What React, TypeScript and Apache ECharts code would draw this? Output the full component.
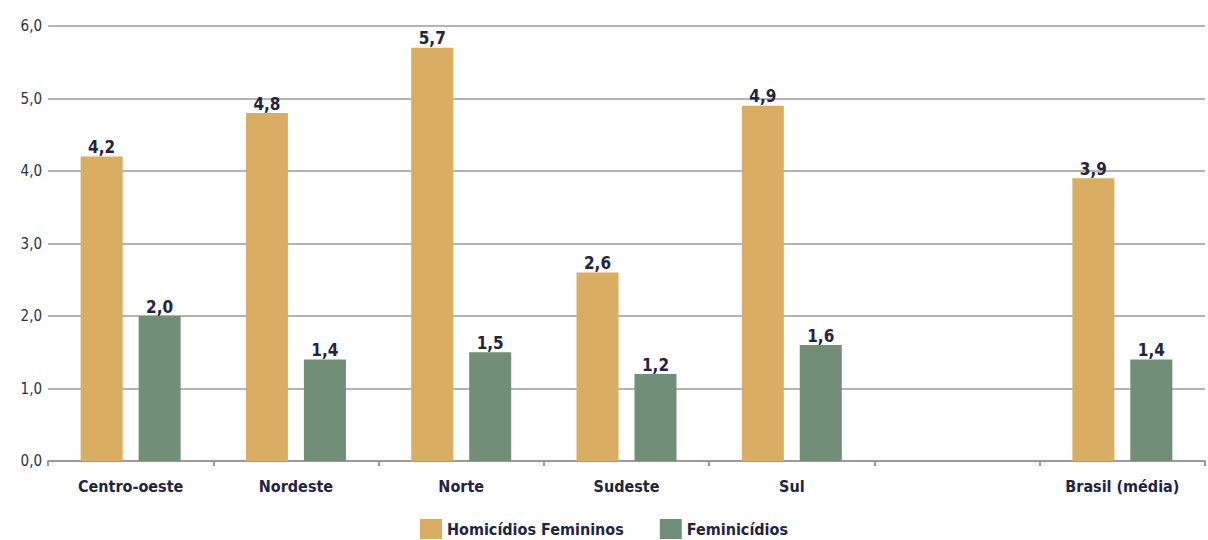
import React, { useEffect, useRef } from "react";
import * as echarts from "echarts";

const categories = ["Centro-oeste", "Nordeste", "Norte", "Sudeste", "Sul", "", "Brasil (média)"];
const homicidios: (number | string)[] = [4.2, 4.8, 5.7, 2.6, 4.9, "-", 3.9];
const feminicidios: (number | string)[] = [2.0, 1.4, 1.5, 1.2, 1.6, "-", 1.4];
const yTicks = [0, 1, 2, 3, 4, 5, 6];

const FONT = "'Liberation Sans Narrow', 'DejaVu Sans Condensed', 'Roboto', sans-serif";
const TEXT = "#1f2440";
const fmt = (v: number) => v.toFixed(1).replace(".", ",");

export default function App() {
  const ref = useRef<HTMLDivElement>(null);
  useEffect(() => {
    document.body.style.margin = "0";
    if (!ref.current) return;
    const chart = echarts.init(ref.current, null, { renderer: "svg" });
    chart.setOption({
      animation: false,
      textStyle: { fontFamily: FONT },
      grid: { left: 48, right: 3, top: 26, bottom: 79 },
      legend: {
        top: 514,
        left: "center",
        itemWidth: 22,
        itemHeight: 20,
        itemGap: 36,
        icon: "rect",
        textStyle: { fontFamily: FONT, fontSize: 16, lineHeight: 18, color: TEXT, fontWeight: "bold" },
        data: ["Homicídios Femininos", "Feminicídios"],
      },
      xAxis: {
        type: "category",
        data: categories,
        axisLine: { lineStyle: { color: "#9a9a9a", width: 2 } },
        axisTick: { show: true, length: 5, lineStyle: { color: "#9a9a9a", width: 2 } },
        axisLabel: { fontFamily: FONT, fontSize: 16, color: TEXT, fontWeight: "bold", margin: 17 },
      },
      yAxis: {
        type: "value",
        min: yTicks[0],
        max: yTicks[yTicks.length - 1],
        interval: 1,
        axisLine: { show: false },
        axisTick: { show: false },
        splitLine: { lineStyle: { color: "#b4b4b4", width: 2 } },
        axisLabel: {
          fontFamily: FONT,
          fontSize: 15,
          color: "#2a3050",
          margin: 6,
          formatter: (v: number) => fmt(v),
        },
      },
      series: [
        {
          name: "Homicídios Femininos",
          type: "bar",
          data: homicidios,
          barWidth: 42,
          barGap: "38%",
          itemStyle: { color: "#d9ae62" },
          label: {
            show: true,
            position: "top",
            distance: 1,
            fontFamily: FONT,
            fontSize: 17,
            fontWeight: "bold",
            color: TEXT,
            formatter: (p: any) => fmt(p.value),
          },
        },
        {
          name: "Feminicídios",
          type: "bar",
          data: feminicidios,
          barWidth: 42,
          itemStyle: { color: "#718f76" },
          label: {
            show: true,
            position: "top",
            distance: 1,
            fontFamily: FONT,
            fontSize: 17,
            fontWeight: "bold",
            color: TEXT,
            formatter: (p: any) => fmt(p.value),
          },
        },
      ],
    });
    return () => chart.dispose();
  }, []);
  return <div ref={ref} style={{ width: 1208, height: 540 }} />;
}
